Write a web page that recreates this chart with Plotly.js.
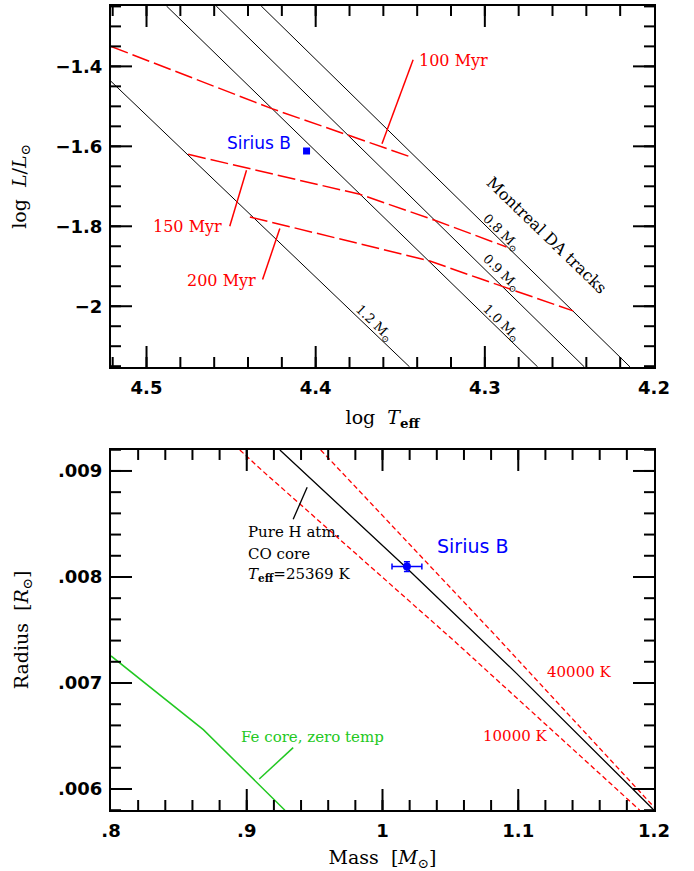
<!DOCTYPE html>
<html>
<head>
<meta charset="utf-8">
<script src="https://cdn.plot.ly/plotly-3.0.1.min.js"></script>
<style>html,body{margin:0;padding:0;background:#fff;}#chart{width:694px;height:871px;}</style>
</head>
<body>
<div id="chart"></div>
<script>
// ---------- Top panel: HR diagram (log Teff vs log L/Lsun) ----------
const track08T = [4.4322, 4.2142];
const track08L = [-1.249, -2.1517];
const track09T = [4.4588, 4.2412];
const track09L = [-1.249, -2.1517];
const track10T = [4.4882, 4.2688];
const track10L = [-1.249, -2.1517];
const track12T = [4.521, 4.3445];
const track12L = [-1.4375, -2.1517];

const iso100T = [4.521, 4.4259, 4.3805, 4.3437];
const iso100L = [-1.35, -1.5058, -1.5725, -1.6267];
const iso150T = [4.4754, 4.3739, 4.3296, 4.2872];
const iso150L = [-1.62, -1.72, -1.785, -1.8517];
const iso200T = [4.4389, 4.3325, 4.303, 4.2478];
const iso200L = [-1.7767, -1.8867, -1.9308, -2.0117];

const siriusLogT = [4.4054];
const siriusLogL = [-1.6117];

const lead100T = [4.3424, 4.3608];
const lead100L = [-1.3833, -1.5933];
const lead150T = [4.4508, 4.4409];
const lead150L = [-1.80, -1.66];
const lead200T = [4.4314, 4.4212];
const lead200L = [-1.9333, -1.8058];

// ---------- Bottom panel: mass-radius ----------
const pureHMass = [0.9244, 1.0172, 1.0987, 1.2];
const pureHRad = [0.009198, 0.008092, 0.007091, 0.0058];
const t10000Mass = [0.8949, 0.9109, 1.052, 1.1895];
const t10000Rad = [0.009198, 0.009009, 0.007406, 0.0058];
const t40000Mass = [0.9545, 1.084, 1.2];
const t40000Rad = [0.009198, 0.007437, 0.00583];
const feMass = [0.8, 0.868, 0.9281];
const feRad = [0.007255, 0.00656, 0.0058];

const siriusMass = [1.018];
const siriusMassErr = [0.011];
const siriusRad = [0.008098];
const siriusRadErr = [0.000046];

const leadPureM = [0.9342, 0.9445];
const leadPureR = [0.008544, 0.008846];
const leadFeM = [0.9092, 0.9342];
const leadFeR = [0.006094, 0.00639];

// tick label aliases (leading zero dropped, as in the original)
const botXAlias = {"0.8": ".8", "0.9": ".9"};
const botYAlias = {"0.006": ".006", "0.007": ".007", "0.008": ".008", "0.009": ".009"};

const RED = "#ff0000", BLUE = "#0000ff", GREEN = "#22c822", BLACK = "#000000";
const SERIF = "DejaVu Serif", SANS = "DejaVu Sans";

const W = 694, H = 871, ML = 111, MR = 40, MT = 6, MB = 61;
const TOPDOM = [0.551, 1], BOTDOM = [0, 0.4478];
const TOPX = [4.521, 4.2], TOPY = [-2.152, -1.249];
const BOTX = [0.8, 1.2], BOTY = [0.005802, 0.009198];
const PLOTW = W - ML - MR, PLOTH = H - MT - MB;

function line(x, y, color, width, dash, xa, ya) {
  return {x: x, y: y, type: "scatter", mode: "lines", xaxis: xa, yaxis: ya,
          line: {color: color, width: width, dash: dash || "solid"}, hoverinfo: "skip"};
}
function stepVals(start, stop, step) {
  const out = [];
  const n = Math.round((stop - start) / step);
  for (let i = 0; i <= n; i++) out.push(+(start + i * step).toFixed(6));
  return out;
}

// inside tick marks on all four sides, drawn through the axes' own scales
function tickTrace(xa, ya, xr, yr, dom, xMaj, xMin, yMaj, yMin) {
  const dxpp = (xr[1] - xr[0]) / PLOTW;
  const dypp = (yr[1] - yr[0]) / (PLOTH * (dom[1] - dom[0]));
  const xs = [], ys = [];
  function seg(x0, y0, x1, y1) { xs.push(x0, x1, null); ys.push(y0, y1, null); }
  [[xMaj, 21], [xMin, 10]].forEach(([vals, len]) => vals.forEach(v => {
    seg(v, yr[0], v, yr[0] + len * dypp);
    seg(v, yr[1], v, yr[1] - len * dypp);
  }));
  [[yMaj, 21], [yMin, 10]].forEach(([vals, len]) => vals.forEach(v => {
    seg(xr[0], v, xr[0] + len * dxpp, v);
    seg(xr[1], v, xr[1] - len * dxpp, v);
  }));
  return {x: xs, y: ys, type: "scatter", mode: "lines", xaxis: xa, yaxis: ya,
          connectgaps: false, line: {color: BLACK, width: 2}, hoverinfo: "skip"};
}

const traces = [
  line(track08T, track08L, BLACK, 1, null, "x", "y"),
  line(track09T, track09L, BLACK, 1, null, "x", "y"),
  line(track10T, track10L, BLACK, 1, null, "x", "y"),
  line(track12T, track12L, BLACK, 1, null, "x", "y"),
  line(iso100T, iso100L, RED, 1.5, "18px,5px", "x", "y"),
  line(iso150T, iso150L, RED, 1.5, "18px,5px", "x", "y"),
  line(iso200T, iso200L, RED, 1.5, "18px,5px", "x", "y"),
  line(lead100T, lead100L, RED, 1.5, null, "x", "y"),
  line(lead150T, lead150L, RED, 1.5, null, "x", "y"),
  line(lead200T, lead200L, RED, 1.5, null, "x", "y"),
  {x: siriusLogT, y: siriusLogL, type: "scatter", mode: "markers", xaxis: "x", yaxis: "y",
   marker: {symbol: "square", size: 7, color: BLUE}},

  line(pureHMass, pureHRad, BLACK, 1.3, null, "x2", "y2"),
  line(t10000Mass, t10000Rad, RED, 1.3, "5px,3px", "x2", "y2"),
  line(t40000Mass, t40000Rad, RED, 1.3, "5px,3px", "x2", "y2"),
  line(feMass, feRad, GREEN, 1.5, null, "x2", "y2"),
  line(leadPureM, leadPureR, BLACK, 1.3, null, "x2", "y2"),
  line(leadFeM, leadFeR, GREEN, 1.5, null, "x2", "y2"),
  {x: siriusMass, y: siriusRad, type: "scatter", mode: "markers", xaxis: "x2", yaxis: "y2",
   marker: {symbol: "circle", size: 8, color: BLUE},
   error_x: {type: "data", array: siriusMassErr, color: BLUE, thickness: 1.5, width: 3},
   error_y: {type: "data", array: siriusRadErr, color: BLUE, thickness: 1.5, width: 3}},

  tickTrace("x", "y", TOPX, TOPY, TOPDOM,
    stepVals(4.3, 4.5, 0.1), stepVals(4.22, 4.52, 0.02),
    stepVals(-2.0, -1.4, 0.2), stepVals(-2.15, -1.25, 0.05)),
  tickTrace("x2", "y2", BOTX, BOTY, BOTDOM,
    stepVals(0.9, 1.1, 0.1), stepVals(0.82, 1.18, 0.02),
    stepVals(0.006, 0.009, 0.001), stepVals(0.0058, 0.0092, 0.0002))
];

const tickFont = {family: SANS, size: 18, color: BLACK, weight: "bold"};
const titleFont = {family: SERIF, size: 19, color: BLACK};

function axis(extra) {
  return Object.assign({
    showline: true, linewidth: 2, linecolor: BLACK, mirror: true, ticks: "",
    showgrid: false, zeroline: false, tickfont: tickFont, ticklabelstandoff: 3
  }, extra);
}

function ann(text, x, y, xref, yref, color, size, family, xanchor, angle) {
  return {text: text, x: x, y: y, xref: xref, yref: yref, showarrow: false,
          font: {family: family || SERIF, size: size, color: color},
          xanchor: xanchor || "center", yanchor: "middle", textangle: angle || 0};
}

const annotations = [
  ann("100 Myr", 4.3404, -1.385, "x", "y", RED, 16, SERIF, "left"),
  ann("150 Myr", 4.4541, -1.8017, "x", "y", RED, 16, SERIF, "right"),
  ann("200 Myr", 4.434, -1.935, "x", "y", RED, 16, SERIF, "right"),
  ann("Sirius B", 4.4137, -1.5925, "x", "y", BLUE, 17, SANS, "right"),
  ann("Montreal DA tracks", 4.2632, -1.8225, "x", "y", BLACK, 16, SERIF, "center", 44),
  ann("0.8 M<sub>\u2299</sub>", 4.2907, -1.8167, "x", "y", BLACK, 13, SERIF, "center", 44),
  ann("0.9 M<sub>\u2299</sub>", 4.2902, -1.9183, "x", "y", BLACK, 13, SERIF, "center", 44),
  ann("1.0 M<sub>\u2299</sub>", 4.2902, -2.0433, "x", "y", BLACK, 13, SERIF, "center", 44),
  ann("1.2 M<sub>\u2299</sub>", 4.3656, -2.0433, "x", "y", BLACK, 13, SERIF, "center", 44),

  ann("Pure H atm.", 0.8994, 0.00842, "x2", "y2", BLACK, 15, SERIF, "left"),
  ann("CO core", 0.8994, 0.008217, "x2", "y2", BLACK, 15, SERIF, "left"),
  ann("<i>T</i><sub><b>eff</b></sub>=25369 K", 0.8994, 0.008019, "x2", "y2", BLACK, 15, SERIF, "left"),
  ann("Sirius B", 1.0385, 0.008294, "x2", "y2", BLUE, 19, SANS, "left"),
  ann("40000 K", 1.1196, 0.0071, "x2", "y2", RED, 15, SERIF, "left"),
  ann("10000 K", 1.0729, 0.0065, "x2", "y2", RED, 15, SERIF, "left"),
  ann("Fe core, zero temp", 0.8944, 0.006493, "x2", "y2", GREEN, 15, SERIF, "left")
];

const layout = {
  width: W, height: H,
  margin: {l: ML, r: MR, t: MT, b: MB},
  paper_bgcolor: "#ffffff", plot_bgcolor: "#ffffff",
  showlegend: false,
  xaxis: axis({domain: [0, 1], anchor: "y", range: TOPX, tickmode: "linear", tick0: 4.2, dtick: 0.1,
    title: {text: "log  <i>T</i><sub><b>eff</b></sub>", font: titleFont, standoff: 14}}),
  yaxis: axis({domain: TOPDOM, anchor: "x", range: TOPY, tickmode: "linear", tick0: -2, dtick: 0.2,
    title: {text: "log  <i>L</i>/<i>L</i><sub>\u2299</sub>", font: titleFont, standoff: 24}}),
  xaxis2: axis({domain: [0, 1], anchor: "y2", range: BOTX, tickmode: "linear", tick0: 0.8, dtick: 0.1,
    labelalias: botXAlias,
    title: {text: "Mass  [<i>M</i><sub>\u2299</sub>]", font: titleFont, standoff: 14}}),
  yaxis2: axis({domain: BOTDOM, anchor: "x2", range: BOTY, tickmode: "linear", tick0: 0.006, dtick: 0.001,
    labelalias: botYAlias,
    title: {text: "Radius  [<i>R</i><sub>\u2299</sub>]", font: titleFont, standoff: 24}}),
  annotations: annotations
};

Plotly.newPlot("chart", traces, layout, {staticPlot: true, displayModeBar: false});
</script>
</body>
</html>
